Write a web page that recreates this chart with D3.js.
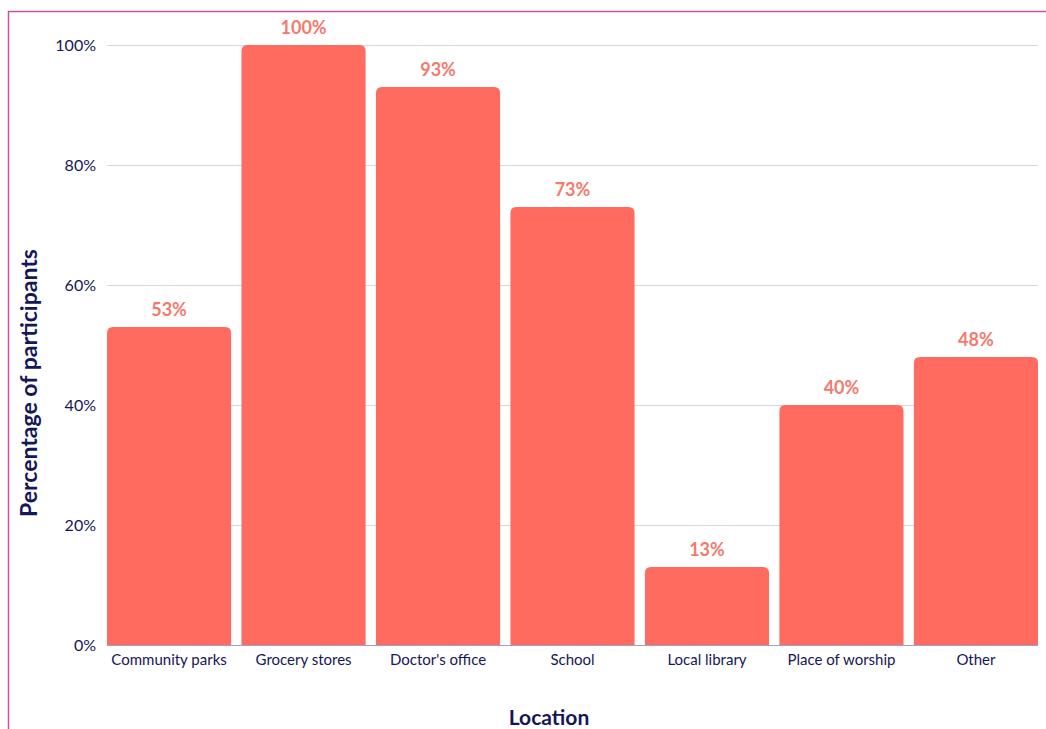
<!DOCTYPE html>
<html>
<head>
<meta charset="utf-8">
<script src="https://cdn.jsdelivr.net/npm/d3@7"></script>
<style>
  body { margin: 0; background: #fff; }
  text { font-family: "Lato", "Noto Sans", sans-serif; }
</style>
</head>
<body>
<script>
// data
var categories = ["Community parks", "Grocery stores", "Doctor's office", "School",
                  "Local library", "Place of worship", "Other"];
var values = [53, 100, 93, 73, 13, 40, 48];
var yTicks = [0, 20, 40, 60, 80, 100];

var width = 1046, height = 729,
    mLeft = 107, mRight = 1038, mTop = 45, mBottom = 645;

var svg = d3.select("body").append("svg")
    .attr("width", width)
    .attr("height", height);

// frame lines (top + left)
svg.append("line")
    .attr("x1", 8).attr("x2", width).attr("y1", 11.5).attr("y2", 11.5)
    .attr("stroke", "#c9509f").attr("stroke-width", 1.5);
svg.append("line")
    .attr("x1", 8.5).attr("x2", 8.5).attr("y1", 11).attr("y2", height)
    .attr("stroke", "#c9509f").attr("stroke-width", 1.5);

var x = d3.scaleBand()
    .domain(categories)
    .range([mLeft, mRight])
    .paddingInner(0.077)
    .paddingOuter(0);

var y = d3.scaleLinear()
    .domain([0, 100])
    .range([mBottom, mTop]);

// gridlines
svg.append("g")
  .selectAll("line")
  .data(yTicks.filter(function(d){ return d > 0; }))
  .enter()
  .append("line")
    .attr("x1", mLeft).attr("x2", mRight)
    .attr("y1", function(d){ return y(d) + 0.5; })
    .attr("y2", function(d){ return y(d) + 0.5; })
    .attr("stroke", "#d6d5e2")
    .attr("stroke-width", 1);

// y axis labels
var y_axis = d3.axisLeft(y).tickValues(yTicks)
    .tickFormat(function(d){ return d + "%"; })
    .tickSize(0).tickPadding(11);

svg.append("g")
    .attr("class", "y axis")
    .attr("transform", "translate(" + mLeft + ",0)")
  .call(y_axis)
  .call(function(g){ g.select(".domain").remove(); })
  .selectAll("text")
    .attr("fill", "#16165a")
    .attr("font-size", 16);

// bars with rounded tops
var r = 6;
function barPath(d, i) {
  var x0 = x(categories[i]), w = x.bandwidth(),
      y0 = y(d), y1 = y(0);
  return "M" + x0 + "," + y1 +
         "V" + (y0 + r) +
         "Q" + x0 + "," + y0 + " " + (x0 + r) + "," + y0 +
         "H" + (x0 + w - r) +
         "Q" + (x0 + w) + "," + y0 + " " + (x0 + w) + "," + (y0 + r) +
         "V" + y1 + "Z";
}

svg.append("g")
  .selectAll("path")
  .data(values)
  .enter()
  .append("path")
    .attr("d", barPath)
    .attr("fill", "#ff6b5e");

// value labels
svg.append("g")
  .selectAll("text")
  .data(values)
  .enter()
  .append("text")
    .attr("x", function(d, i){ return x(categories[i]) + x.bandwidth() / 2; })
    .attr("y", function(d){ return y(d) - 11; })
    .attr("text-anchor", "middle")
    .attr("font-size", 18)
    .attr("font-weight", "bold")
    .attr("fill", "#f47a6c")
    .text(function(d){ return d + "%"; });

// x axis
var x_axis = d3.axisBottom(x).tickSize(0).tickPadding(9);

svg.append("g")
    .attr("class", "x axis")
    .attr("transform", "translate(0," + mBottom + ")")
  .call(x_axis)
  .call(function(g){
    g.select(".domain").attr("stroke", "#9fa2c8").attr("d", "M" + mLeft + ",0.5H" + mRight);
  })
  .selectAll("text")
    .attr("fill", "#16165a")
    .attr("font-size", 15);

// axis titles
svg.append("text")
    .attr("x", 549).attr("y", 725)
    .attr("text-anchor", "middle")
    .attr("font-size", 21)
    .attr("font-weight", "bold")
    .attr("fill", "#16165a")
    .text("Location");

svg.append("text")
    .attr("transform", "translate(37,383) rotate(-90)")
    .attr("text-anchor", "middle")
    .attr("font-size", 23)
    .attr("font-weight", "bold")
    .attr("fill", "#16165a")
    .text("Percentage of participants");
</script>
</body>
</html>
